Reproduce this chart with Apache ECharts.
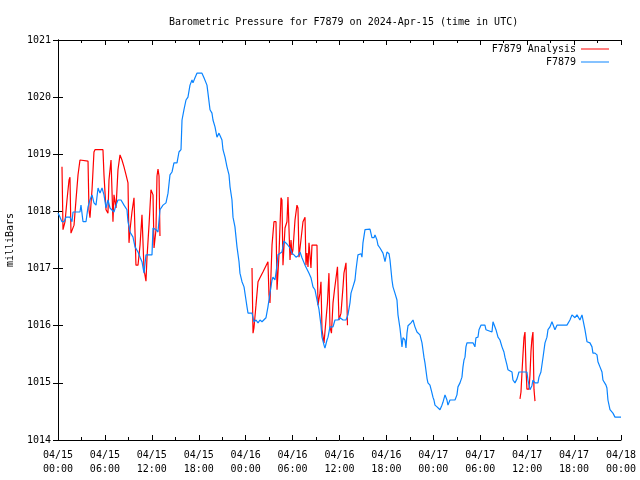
<!DOCTYPE html>
<html><head><meta charset="utf-8">
<script src="https://cdn.jsdelivr.net/npm/echarts@6/dist/echarts.min.js"></script>
<style>html,body{margin:0;padding:0;background:#fff}#c{width:640px;height:480px}</style>
</head><body><div id="c"></div>
<script>
// hours since 2024-04-15 00:00 UTC
const stationHours = [0.00,0.26,0.51,0.77,1.02,1.53,1.79,1.92,2.30,2.81,2.94,3.20,3.58,3.84,4.09,4.35,4.60,4.86,5.12,5.37,5.63,5.88,6.14,6.39,6.65,7.16,7.42,7.67,8.06,8.44,8.82,8.95,9.21,9.59,9.85,10.23,10.49,10.74,11.00,11.25,11.64,12.02,12.15,12.53,12.79,13.04,13.43,13.81,14.07,14.32,14.58,14.83,15.22,15.47,15.73,15.86,16.11,16.37,16.62,16.88,17.14,17.26,17.52,17.77,18.41,18.67,19.05,19.18,19.44,19.69,19.82,20.08,20.33,20.59,20.72,20.97,21.10,21.36,21.61,21.87,22.00,22.25,22.38,22.63,22.89,23.15,23.27,23.53,23.79,24.04,24.17,24.30,24.81,25.06,25.32,25.58,25.83,26.09,26.34,26.60,26.85,27.11,27.37,27.49,27.75,28.01,28.13,28.64,28.90,29.28,29.67,29.92,30.18,30.43,30.69,30.95,31.20,31.59,31.84,32.10,32.35,32.61,32.86,33.12,33.38,33.63,33.76,34.02,34.14,34.40,34.53,34.78,35.17,35.42,35.81,36.06,36.45,36.83,37.08,37.34,37.47,37.72,37.98,38.11,38.24,38.36,38.75,38.87,39.00,39.26,39.90,40.15,40.41,40.54,40.79,40.92,41.18,41.56,41.82,42.07,42.33,42.46,42.71,42.84,43.09,43.35,43.48,43.73,43.86,43.99,44.12,44.37,44.50,44.63,44.76,45.14,45.40,45.65,45.91,46.29,46.55,46.68,46.80,46.93,47.19,47.31,47.57,47.70,47.83,47.95,48.08,48.21,48.47,48.59,48.85,49.10,49.23,49.49,49.74,49.87,50.13,50.77,51.02,51.15,51.41,51.66,51.79,51.92,52.05,52.17,52.30,53.07,53.32,53.45,53.71,53.84,54.09,54.60,54.73,55.50,55.63,55.75,56.01,56.27,56.52,56.78,57.03,57.16,57.42,57.54,58.06,58.18,58.44,58.70,58.95,59.97,60.10,60.36,60.49,60.61,60.74,61.00,61.38,61.51,61.76,62.02,62.28,62.53,62.66,62.92,63.17,63.30,63.55,63.81,65.09,65.47,65.73,66.11,66.37,66.75,67.01,67.14,67.39,67.65,67.90,68.03,68.29,68.41,68.67,68.93,69.05,69.31,69.57,69.69,70.08,70.20,70.33,70.59,70.97,71.23,72.00];
const stationPressure = [1017.97,1017.90,1017.82,1017.82,1017.90,1017.90,1017.82,1017.99,1017.99,1017.99,1018.11,1017.82,1017.82,1018.08,1018.20,1018.29,1018.15,1018.11,1018.41,1018.32,1018.41,1018.29,1018.06,1018.20,1018.06,1017.99,1018.11,1018.20,1018.20,1018.11,1018.03,1017.82,1017.64,1017.55,1017.38,1017.29,1017.20,1017.12,1016.92,1017.24,1017.24,1017.24,1017.71,1017.68,1017.64,1018.03,1018.11,1018.15,1018.32,1018.64,1018.69,1018.85,1018.85,1019.04,1019.08,1019.60,1019.78,1019.95,1020.00,1020.21,1020.30,1020.25,1020.34,1020.42,1020.42,1020.34,1020.21,1020.07,1019.78,1019.72,1019.60,1019.48,1019.30,1019.37,1019.39,1019.25,1019.08,1018.95,1018.78,1018.64,1018.43,1018.20,1017.90,1017.73,1017.38,1017.12,1016.92,1016.77,1016.68,1016.45,1016.33,1016.22,1016.22,1016.07,1016.10,1016.05,1016.10,1016.07,1016.10,1016.14,1016.33,1016.57,1016.80,1016.85,1016.80,1017.06,1017.24,1017.29,1017.48,1017.43,1017.36,1017.27,1017.24,1017.20,1017.22,1017.29,1017.19,1017.06,1017.03,1016.92,1016.84,1016.68,1016.63,1016.45,1016.28,1016.01,1015.80,1015.66,1015.61,1015.75,1015.80,1015.98,1015.98,1016.10,1016.10,1016.14,1016.10,1016.10,1016.19,1016.40,1016.57,1016.68,1016.80,1016.98,1017.12,1017.24,1017.26,1017.20,1017.45,1017.68,1017.69,1017.54,1017.54,1017.59,1017.50,1017.41,1017.36,1017.27,1017.12,1017.29,1017.26,1017.15,1016.80,1016.68,1016.57,1016.45,1016.19,1015.96,1015.80,1015.63,1015.79,1015.75,1015.61,1015.87,1016.00,1016.05,1016.10,1015.98,1015.89,1015.84,1015.70,1015.57,1015.45,1015.35,1015.08,1015.00,1014.96,1014.93,1014.82,1014.75,1014.70,1014.61,1014.58,1014.56,1014.53,1014.61,1014.66,1014.79,1014.70,1014.61,1014.70,1014.70,1014.79,1014.93,1015.00,1015.10,1015.28,1015.40,1015.45,1015.63,1015.70,1015.70,1015.63,1015.79,1015.80,1015.93,1016.01,1016.01,1015.93,1015.89,1016.07,1016.10,1015.93,1015.80,1015.75,1015.63,1015.54,1015.45,1015.31,1015.23,1015.19,1015.05,1015.00,1015.07,1015.19,1015.19,1015.05,1014.88,1014.91,1014.95,1015.05,1015.00,1015.00,1015.10,1015.19,1015.44,1015.70,1015.80,1015.93,1015.98,1016.07,1016.10,1015.93,1016.01,1016.01,1016.10,1016.19,1016.14,1016.19,1016.10,1016.19,1016.19,1015.93,1015.72,1015.75,1015.70,1015.63,1015.52,1015.52,1015.49,1015.37,1015.28,1015.19,1015.05,1014.96,1014.91,1014.70,1014.53,1014.47,1014.40,1014.40];

const analysisHours = [0.51,0.64,0.90,1.15,1.41,1.53,1.66,1.79,2.05,2.30,2.56,2.81,3.84,3.96,4.09,4.35,4.60,4.73,5.75,5.88,6.14,6.39,6.52,6.78,7.03,7.16,7.42,7.67,7.93,8.18,8.44,8.70,8.95,9.08,9.21,9.46,9.72,9.85,9.97,10.23,10.49,10.74,10.87,11.00,11.25,11.38,11.64,11.89,12.02,12.15,12.28,12.53,12.66,12.79,12.92,13.04,
  18.0,
  24.81,24.94,25.06,25.32,25.58,25.83,26.21,26.60,26.85,26.98,27.11,27.37,27.62,27.88,28.01,28.26,28.52,28.64,28.77,29.03,29.28,29.41,29.67,29.80,29.92,30.05,30.31,30.56,30.69,30.82,31.07,31.33,31.59,31.71,31.84,31.97,32.10,32.35,32.48,33.12,33.25,33.50,33.63,33.76,34.02,34.27,34.46,34.65,34.78,34.97,35.17,35.36,35.74,35.93,36.19,36.45,36.57,36.83,37.02,
  48.0,
  59.08,59.21,59.34,59.46,59.59,59.72,59.85,59.97,60.23,60.36,60.49,60.61,60.74,60.87,61.00];
const analysisPressure = [1018.78,1017.68,1017.82,1018.20,1018.55,1018.60,1017.62,1017.62,1017.76,1018.20,1018.64,1018.90,1018.88,1018.03,1017.89,1018.38,1019.04,1019.08,1019.08,1018.64,1018.03,1017.97,1018.55,1018.90,1017.82,1018.29,1018.06,1018.73,1018.99,1018.90,1018.78,1018.64,1018.50,1017.45,1017.68,1017.99,1018.24,1018.25,1017.06,1017.06,1017.41,1017.94,1017.97,1016.98,1016.78,1017.19,1017.76,1018.38,1018.41,1018.29,1017.36,1017.68,1018.62,1018.74,1018.62,1017.57,
  null,
  1017.01,1015.87,1015.96,1016.36,1016.77,1016.84,1016.94,1017.05,1017.12,1016.54,1016.40,1017.41,1017.82,1017.82,1016.63,1017.24,1018.24,1018.20,1017.06,1017.71,1017.82,1018.25,1017.15,1017.50,1017.24,1017.33,1017.85,1018.11,1018.06,1017.20,1017.50,1017.82,1017.90,1017.06,1017.27,1017.03,1017.45,1017.01,1017.41,1017.41,1016.36,1016.57,1016.77,1015.93,1015.70,1016.10,1016.40,1016.92,1015.98,1015.87,1016.40,1016.63,1017.03,1016.10,1016.22,1016.68,1016.92,1017.10,1016.01,
  null,
  1014.72,1014.84,1015.19,1015.49,1015.79,1015.89,1015.26,1014.89,1014.89,1015.14,1015.56,1015.77,1015.89,1014.89,1014.68];

const xTickLabels = ['04/15\n00:00','04/15\n06:00','04/15\n12:00','04/15\n18:00','04/16\n00:00','04/16\n06:00','04/16\n12:00','04/16\n18:00','04/17\n00:00','04/17\n06:00','04/17\n12:00','04/17\n18:00','04/18\n00:00'];
const seriesNames = ['F7879 Analysis','F7879'];
const titleText = 'Barometric Pressure for F7879 on 2024-Apr-15 (time in UTC)';
const yAxisTitle = 'milliBars';

const FONT = 'DejaVu Sans Mono';
const zip = (a,b) => a.map((h,i) => [h, b[i]]);

const chart = echarts.init(document.getElementById('c'), null, {renderer:'canvas'});
const axisLine = {show:true, lineStyle:{color:'#000', width:1}};
const tick = {show:true, inside:true, length:5, lineStyle:{color:'#000'}};
chart.setOption({
  animation:false,
  backgroundColor:'#fff',
  title:{text:titleText, left:164, top:12, textStyle:{fontFamily:FONT, fontSize:10, fontWeight:'normal', color:'#000'}},
  legend:[
    {data:[seriesNames[0]], right:31, top:44, orient:'vertical', align:'right', padding:0, itemWidth:28, itemHeight:1, icon:'rect', textStyle:{fontFamily:FONT, fontSize:10, color:'#000'}},
    {data:[seriesNames[1]], right:31, top:57, orient:'vertical', align:'right', padding:0, itemWidth:28, itemHeight:1, icon:'rect', textStyle:{fontFamily:FONT, fontSize:10, color:'#000'}}
  ],
  grid:{left:58, right:19, top:40, bottom:40, containLabel:false, outerBoundsMode:'none'},
  xAxis:[
    {type:'value', min:0, max:72, interval:6, position:'bottom', axisLine, axisTick:tick,
     minorTick:{show:true, splitNumber:2, length:3, lineStyle:{color:'#000'}},
     splitLine:{show:false},
     axisLabel:{formatter:v => xTickLabels[Math.round(v/6)], fontFamily:FONT, fontSize:10, color:'#000', lineHeight:14, margin:8}},
    {type:'value', min:0, max:72, interval:6, position:'top', axisLine, axisTick:tick,
     minorTick:{show:true, splitNumber:2, length:3, lineStyle:{color:'#000'}},
     splitLine:{show:false}, axisLabel:{show:false}}
  ],
  yAxis:[
    {type:'value', min:1014, max:1021, interval:1, position:'left', axisLine, axisTick:tick, splitLine:{show:false},
     axisLabel:{formatter:v => String(v), fontFamily:FONT, fontSize:10, color:'#000', margin:7},
     name:yAxisTitle, nameLocation:'middle', nameGap:43, nameRotate:90,
     nameTextStyle:{fontFamily:FONT, fontSize:10, color:'#000'}},
    {type:'value', min:1014, max:1021, interval:1, position:'right', axisLine, axisTick:tick, splitLine:{show:false}, axisLabel:{show:false}}
  ],
  series:[
    {name:seriesNames[0], type:'line', data:zip(analysisHours, analysisPressure), symbol:'none', showSymbol:false, connectNulls:false,
     lineStyle:{color:'#ff0000', width:1.2}, itemStyle:{color:'#ff0000'}, z:2},
    {name:seriesNames[1], type:'line', data:zip(stationHours, stationPressure), symbol:'none', showSymbol:false,
     lineStyle:{color:'#0a84ff', width:1.2}, itemStyle:{color:'#0a84ff'}, z:3}
  ]
});
</script></body></html>
